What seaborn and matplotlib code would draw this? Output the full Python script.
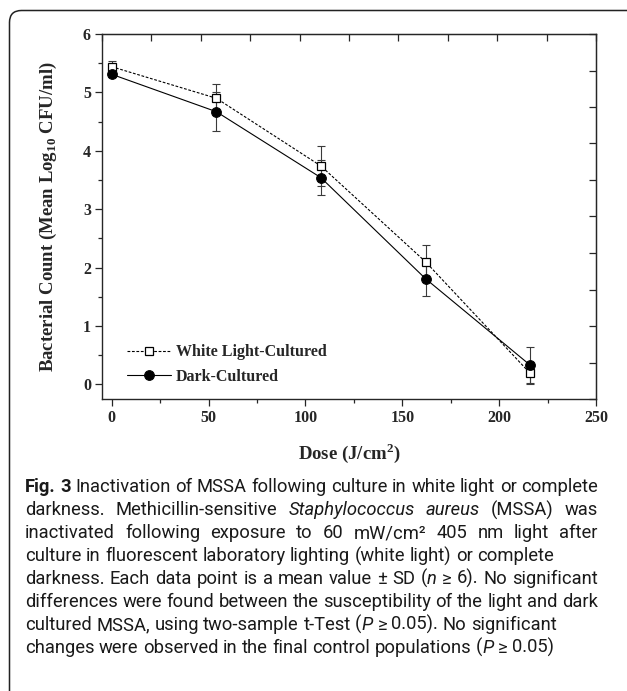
import numpy as np
import pandas as pd
import matplotlib
matplotlib.use("Agg")
import matplotlib.pyplot as plt
import seaborn as sns
from matplotlib.patches import FancyBboxPatch
from matplotlib.ticker import MultipleLocator

# data
dose = [0, 54, 108, 162, 216]
white_mean = [5.44, 4.90, 3.74, 2.10, 0.19]
white_sd = [0.09, 0.25, 0.35, 0.28, 0.18]
dark_mean = [5.31, 4.67, 3.54, 1.81, 0.33]
dark_sd = [0.04, 0.33, 0.30, 0.30, 0.31]
series_names = ["White Light-Cultured", "Dark-Cultured"]

x_ticks = [0, 50, 100, 150, 200, 250]
y_ticks = [0, 1, 2, 3, 4, 5, 6]
x_lim = (-5, 250)
y_lim = (-0.25, 6)

caption_lines = [
    [("Fig. 3", "b"), (" Inactivation of MSSA following culture in white light or complete", "n")],
    [("darkness. Methicillin-sensitive ", "n"), ("Staphylococcus aureus", "i"), (" (MSSA) was", "n")],
    [("inactivated following exposure to 60 mW/cm² 405 nm light after", "n")],
    [("culture in fluorescent laboratory lighting (white light) or complete", "n")],
    [("darkness. Each data point is a mean value ± SD (", "n"), ("n", "i"), (" ≥ 6). No significant", "n")],
    [("differences were found between the susceptibility of the light and dark", "n")],
    [("cultured MSSA, using two-sample t-Test (", "n"), ("P", "i"), (" ≥ 0.05). No significant", "n")],
    [("changes were observed in the final control populations (", "n"), ("P", "i"), (" ≥ 0.05)", "n")],
]
caption_justify = [True, True, True, False, True, True, False, False]

df = pd.DataFrame({"dose": dose, "white": white_mean, "dark": dark_mean})

sns.set_style("ticks")
plt.rcParams["font.family"] = ["Liberation Serif", "DejaVu Serif"]
plt.rcParams["font.weight"] = "bold"
plt.rcParams["axes.labelweight"] = "bold"
plt.rcParams["mathtext.fontset"] = "custom"
plt.rcParams["mathtext.rm"] = "Liberation Serif:bold"
plt.rcParams["mathtext.bf"] = "Liberation Serif:bold"

W, H = 627, 691
fig = plt.figure(figsize=(W / 100, H / 100), dpi=100)
ax = fig.add_axes([102 / W, 1 - 399 / H, 494 / W, 365 / H])

# error bars
ax.errorbar(dose, white_mean, yerr=white_sd, fmt="none", ecolor="#3a3a3a",
            elinewidth=0.8, capsize=3, capthick=0.8, zorder=2)
ax.errorbar(dose, dark_mean, yerr=dark_sd, fmt="none", ecolor="#3a3a3a",
            elinewidth=0.8, capsize=3, capthick=0.8, zorder=2)

sns.lineplot(data=df, x="dose", y="white", ax=ax, color="black", linewidth=0.8,
             linestyle=(0, (2.5, 1.5)), marker="s", markersize=5.5,
             markerfacecolor="white", markeredgecolor="black", markeredgewidth=0.9,
             label=series_names[0], errorbar=None, zorder=3)
sns.lineplot(data=df, x="dose", y="dark", ax=ax, color="black", linewidth=0.8,
             marker="o", markersize=7, markerfacecolor="black",
             markeredgecolor="black", label=series_names[1], errorbar=None, zorder=4)

ax.set_xlim(*x_lim)
ax.set_ylim(*y_lim)
ax.set_xticks(x_ticks)
ax.set_yticks(y_ticks)
ax.xaxis.set_minor_locator(MultipleLocator(25))
ax.yaxis.set_minor_locator(MultipleLocator(0.5))
ax.tick_params(which="major", direction="out", length=5, width=0.9, labelsize=11.5, pad=3,
               top=False, right=False)
ax.tick_params(which="minor", direction="out", length=3, width=0.9, top=False, right=False)
for sp in ax.spines.values():
    sp.set_visible(True)
    sp.set_linewidth(1.0)

# inward ticks on top/right, ten equal steps of the frame
secx = ax.secondary_xaxis("top")
secx.set_xticks(np.linspace(x_lim[0], x_lim[1], 11))
secx.tick_params(direction="in", length=5, width=0.9, labeltop=False)
secy = ax.secondary_yaxis("right")
secy.set_yticks(np.linspace(y_lim[0], y_lim[1], 11))
secy.tick_params(direction="in", length=5, width=0.9, labelright=False)

ax.set_xlabel(r"Dose (J/cm$^{\mathbf{2}}$)", fontsize=13.5, labelpad=11)
ax.set_ylabel(r"Bacterial Count (Mean Log$_{\mathbf{10}}$ CFU/ml)", fontsize=13.5, labelpad=17)

ax.legend(frameon=False, loc="upper left", bbox_to_anchor=(0.05, 0.150),
          handlelength=2.8, handletextpad=0.3, labelspacing=0.55, borderpad=0,
          borderaxespad=0, prop=dict(family="Liberation Serif", weight="bold", size=11.5))

# frame around figure + caption
box = FancyBboxPatch((9.5, -30), 650, H - 10.5 + 30, boxstyle="round,pad=0,rounding_size=12",
                     transform=None, fill=False, edgecolor="#222222", linewidth=1.1)
fig.add_artist(box)

cap_family = ["Roboto", "DejaVu Sans"]
style_kw = {"n": dict(fontweight="normal"), "b": dict(fontweight="bold"),
            "i": dict(fontweight="normal", fontstyle="italic")}
renderer = fig.canvas.get_renderer()


def measure(s, style, size):
    t = fig.text(0, 0, s, fontsize=size, family=cap_family, **style_kw[style])
    w = t.get_window_extent(renderer).width
    t.remove()
    return w


def split_words(pieces):
    words = [[]]
    for text, style in pieces:
        for k, part in enumerate(text.split(" ")):
            if k > 0:
                words.append([])
            if part:
                words[-1].append((part, style))
    return [w for w in words if w]


# pick size so the sixth line fills the measured width
ref = split_words(caption_lines[5])
w10 = sum(measure(p, s, 10) for w in ref for p, s in w) + (len(ref) - 1) * (
    measure("n n", "n", 10) - measure("nn", "n", 10))
cap_size = 10 * 575 / w10
space = measure("n n", "n", cap_size) - measure("nn", "n", cap_size)

x0, x1 = 25, 598
for i, pieces in enumerate(caption_lines):
    words = split_words(pieces)
    widths = [[measure(p, s, cap_size) for p, s in w] for w in words]
    total = sum(sum(w) for w in widths)
    gap = space
    if caption_justify[i] and len(words) > 1:
        gap = (x1 - x0 - total) / (len(words) - 1)
    y = 492.5 + 22.93 * i
    x = x0
    for w, ws in zip(words, widths):
        for (p, s), pw in zip(w, ws):
            fig.text(x / W, 1 - y / H, p, fontsize=cap_size, family=cap_family,
                     color="#1a1a1a", va="baseline", ha="left", **style_kw[s])
            x += pw
        x += gap

fig.savefig("out.png", dpi=100)
